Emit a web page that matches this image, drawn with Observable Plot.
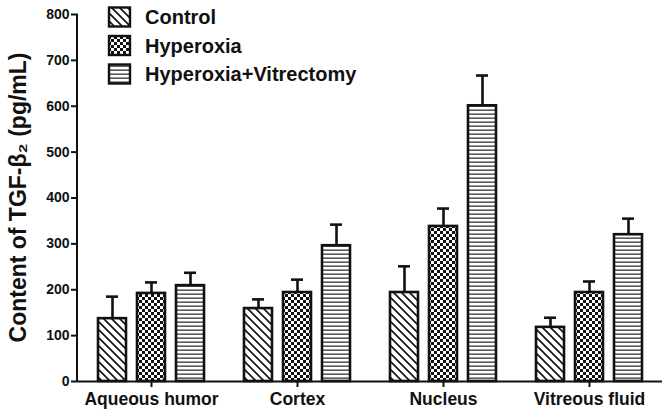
<!DOCTYPE html>
<html>
<head>
<meta charset="utf-8">
<script src="https://cdn.jsdelivr.net/npm/d3@7"></script>
<script src="https://cdn.jsdelivr.net/npm/@observablehq/plot@0.6"></script>
<style>
  html, body { margin: 0; padding: 0; background: #fff; }
  #chart { width: 669px; height: 418px; }
</style>
</head>
<body>
<div id="chart"></div>
<script>
const categories = ["Aqueous humor", "Cortex", "Nucleus", "Vitreous fluid"];
const groups = ["Control", "Hyperoxia", "Hyperoxia+Vitrectomy"];
const controlValues = [137, 159, 194, 118];
const controlErrors = [48, 20, 57, 21];
const hyperoxiaValues = [192, 194, 338, 194];
const hyperoxiaErrors = [24, 28, 39, 24];
const vitrectomyValues = [209, 296, 601, 320];
const vitrectomyErrors = [28, 46, 66, 35];
const yTicks = [0, 100, 200, 300, 400, 500, 600, 700, 800];

const patternIds = {"Control": "pat-diag", "Hyperoxia": "pat-check", "Hyperoxia+Vitrectomy": "pat-horiz"};
const series = [
  [groups[0], controlValues, controlErrors],
  [groups[1], hyperoxiaValues, hyperoxiaErrors],
  [groups[2], vitrectomyValues, vitrectomyErrors]
];
const data = [];
categories.forEach((c, i) => {
  series.forEach(([g, vals, errs]) => {
    data.push({category: c, group: g, value: vals[i], top: vals[i] + errs[i]});
  });
});

const font = "'Liberation Sans', Arial, sans-serif";
const sw = 2.6;

const barMarks = groups.map(g => Plot.barY(data.filter(d => d.group === g), {
  fx: "category", x: "group", y: "value",
  fill: `url(#${patternIds[g]})`, stroke: "#111", strokeWidth: sw
}));

const plot = Plot.plot({
  width: 669,
  height: 418,
  marginLeft: 77,
  marginRight: 6,
  marginTop: 14,
  marginBottom: 37,
  style: {fontFamily: font, background: "#fff", color: "#111"},
  fx: {domain: categories, padding: 0, label: null},
  x: {domain: groups, paddingInner: 0.275, paddingOuter: 0.47, axis: null},
  y: {domain: [0, 800], label: null},
  marks: [
    Plot.ruleX(data, {fx: "category", x: "group", y1: "value", y2: "top", stroke: "#111", strokeWidth: sw}),
    Plot.tickY(data, {fx: "category", x: "group", y: "top", stroke: "#111", strokeWidth: sw, insetLeft: 8, insetRight: 8}),
    ...barMarks,
    Plot.ruleY([0], {stroke: "#111", strokeWidth: 2}),
    Plot.axisY({ticks: yTicks, tickSize: 7, tickPadding: 2, fontSize: 14, fontWeight: "bold", strokeWidth: 2, label: null}),
    Plot.axisFx({anchor: "bottom", tickSize: 6, tickPadding: 5, fontSize: 17.5, fontWeight: "bold", strokeWidth: 2, label: null})
  ]
});

document.getElementById("chart").appendChild(plot);

const svg = d3.select(plot);
const defs = svg.insert("defs", ":first-child");
// diagonal "\" hatch
const pd = defs.append("pattern").attr("id", "pat-diag").attr("patternUnits", "userSpaceOnUse")
  .attr("width", 8).attr("height", 8);
pd.append("rect").attr("width", 8).attr("height", 8).attr("fill", "#fff");
pd.append("path").attr("d", "M-1,-1 L9,9 M-1,7 L1,9 M7,-1 L9,1").attr("stroke", "#111").attr("stroke-width", 1.6);
// checkerboard
const pc = defs.append("pattern").attr("id", "pat-check").attr("patternUnits", "userSpaceOnUse")
  .attr("width", 6).attr("height", 6);
pc.append("rect").attr("width", 6).attr("height", 6).attr("fill", "#fff");
pc.append("rect").attr("width", 3).attr("height", 3).attr("fill", "#111");
pc.append("rect").attr("x", 3).attr("y", 3).attr("width", 3).attr("height", 3).attr("fill", "#111");
// horizontal lines
const ph = defs.append("pattern").attr("id", "pat-horiz").attr("patternUnits", "userSpaceOnUse")
  .attr("width", 8).attr("height", 4);
ph.append("rect").attr("width", 8).attr("height", 4).attr("fill", "#fff");
ph.append("rect").attr("y", 1.5).attr("width", 8).attr("height", 1.3).attr("fill", "#333");

// y axis line and title
const y = plot.scale("y");
svg.append("line")
  .attr("x1", 77).attr("x2", 77)
  .attr("y1", y.apply(0)).attr("y2", y.apply(800))
  .attr("stroke", "#111").attr("stroke-width", 2);
svg.append("text")
  .attr("transform", `translate(26,${(y.apply(0) + y.apply(800)) / 2}) rotate(-90)`)
  .attr("text-anchor", "middle")
  .attr("font-family", font).attr("font-weight", "bold").attr("font-size", 23).attr("fill", "#111")
  .text("Content of TGF-β₂ (pg/mL)");

// legend
const lg = svg.append("g").attr("font-family", font).attr("font-weight", "bold").attr("font-size", 20)
  .attr("fill", "#111").attr("text-anchor", "start");
groups.forEach((g, i) => {
  const cy = 17 + i * 28.5;
  lg.append("rect").attr("x", 109).attr("y", cy - 9.5).attr("width", 21).attr("height", 19)
    .attr("fill", `url(#${patternIds[g]})`).attr("stroke", "#111").attr("stroke-width", 2.4);
  lg.append("text").attr("x", 145).attr("y", cy).attr("dominant-baseline", "central").text(g);
});
</script>
</body>
</html>
